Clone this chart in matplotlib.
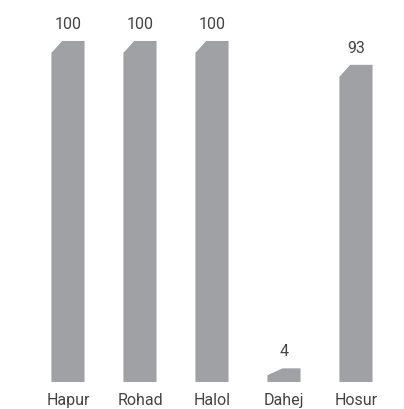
import matplotlib
matplotlib.use("Agg")
import matplotlib.pyplot as plt
from matplotlib.patches import Polygon

# data
sites = ["Hapur", "Rohad", "Halol", "Dahej", "Hosur"]
values = [100, 100, 100, 4, 93]

bar_color = "#a0a1a5"
text_color = "#444444"
bar_w = 0.46

fig = plt.figure(figsize=(4.04, 4.10), dpi=100)
ax = fig.add_axes([0, 0, 1, 1])
ax.set_xlim(-0.944, 4.667)
ax.set_ylim(-7.92, 112.3)
ax.axis("off")

for i, (name, v) in enumerate(zip(sites, values)):
    left = i - bar_w / 2
    right = i + bar_w / 2
    # chamfered top-left corner
    cy = min(3.5, v * 0.5)
    cx = 0.15 if v > 10 else 0.21
    pts = [(left, 0), (right, 0), (right, v), (left + cx, v), (left, v - cy)]
    ax.add_patch(Polygon(pts, closed=True, facecolor=bar_color, edgecolor="none"))
    ax.annotate(str(v), (i, v), xytext=(0, 9.5), textcoords="offset points",
                ha="center", va="baseline", fontsize=11.5, family="Roboto",
                color=text_color)
    ax.text(i, -6.4, name, ha="center", va="baseline", fontsize=11.5,
            family="Roboto", color=text_color)

fig.savefig("out.png", dpi=100)
